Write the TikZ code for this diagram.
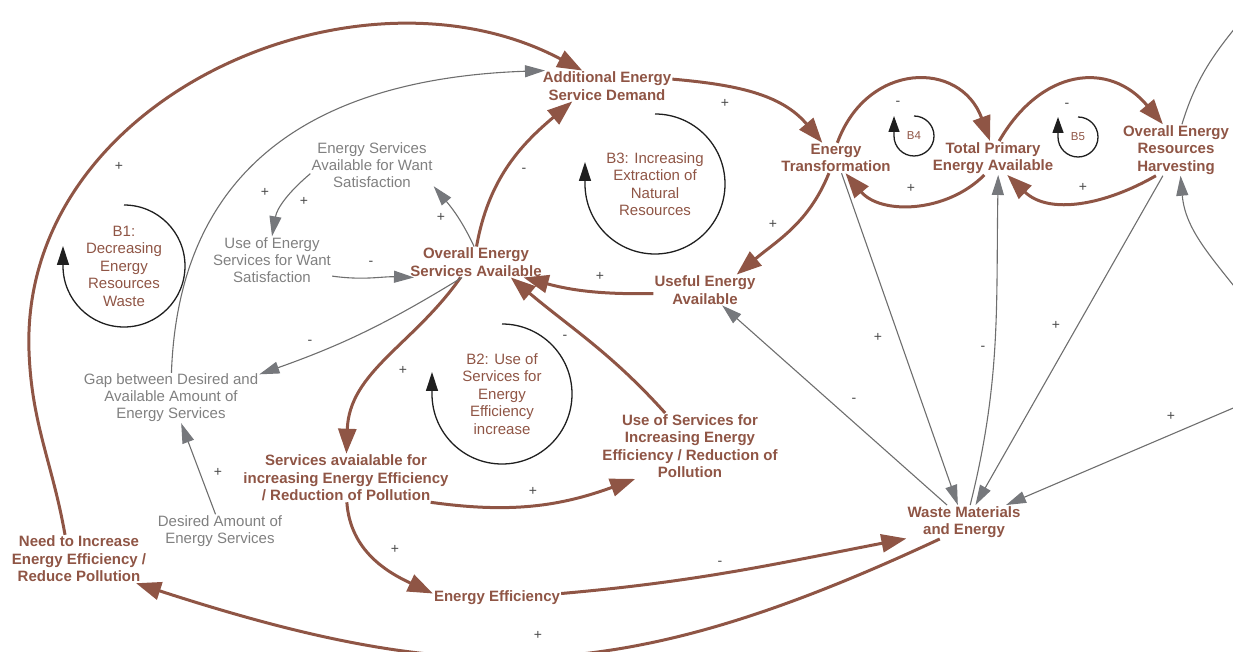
\documentclass[tikz,border=0pt]{standalone}
\usepackage{fontspec}
\setmainfont{Liberation Sans}
\usepackage{xcolor}
\usetikzlibrary{arrows.meta}

\definecolor{varbrown}{HTML}{8F5545}
\definecolor{auxgray}{HTML}{808080}
\definecolor{linkgray}{HTML}{6E6E6E}
\definecolor{headgray}{HTML}{76787C}
\definecolor{polgray}{HTML}{4A4A4A}

\tikzset{
  var/.style={font=\fontsize{15}{17.5}\selectfont\bfseries, text=varbrown, align=center, inner sep=1pt},
  aux/.style={font=\fontsize{15}{17}\selectfont, text=auxgray, align=center, inner sep=1pt},
  looplabel/.style={font=\fontsize{15}{17.5}\selectfont, text=varbrown, align=center, inner sep=0pt},
  pol/.style={font=\fontsize{14}{14}\selectfont, text=polgray, inner sep=0pt},
  link/.style={draw=varbrown, line width=3pt, -{Triangle[length=25pt,width=18pt]}},
  glink/.style={draw=linkgray, line width=1.1pt, -{Triangle[length=20pt,width=12pt,color=headgray]}},
  loopc/.style={draw=black!88, line width=1.3pt, -{Triangle[length=19pt,width=12pt]}}
}

\begin{document}
\begin{tikzpicture}[x=1pt,y=1pt]
	\useasboundingbox (0,0) rectangle (1233,651);

	% main variables
	\node[var] (add) at (607,565) {Additional Energy\\Service Demand};
	\node[var] (et) at (836,493) {Energy\\Transformation};
	\node[var] (tpe) at (993,493) {Total Primary\\Energy Available};
	\node[var] (oerh) at (1176,501) {Overall Energy\\Resources\\Harvesting};
	\node[var] (oesa) at (476,389) {Overall Energy\\Services Available};
	\node[var] (uea) at (705,361) {Useful Energy\\Available};
	\node[var] (saie) at (346,173) {Services avaialable for\\increasing Energy Efficiency\\/ Reduction of Pollution};
	\node[var] (usie) at (690,205) {Use of Services for\\Increasing Energy\\Efficiency / Reduction of\\Pollution};
	\node[var] (ee) at (497,53) {Energy Efficiency};
	\node[var] (wme) at (964,129) {Waste Materials\\and Energy};
	\node[var] (niee) at (79,92) {Need to Increase\\Energy Efficiency /\\Reduce Pollution};

	% grey auxiliaries
	\node[aux] (esaw) at (372,486) {Energy Services\\Available for Want\\Satisfaction};
	\node[aux] (uesw) at (272,391) {Use of Energy\\Services for Want\\Satisfaction};
	\node[aux] (gap) at (171,253) {Gap between Desired and\\Available Amount of\\Energy Services};
	\node[aux] (daes) at (220,120) {Desired Amount of\\Energy Services};

	% loop names
	\node[looplabel] (b1) at (124,385) {B1:\\Decreasing\\Energy\\Resources\\Waste};
	\node[looplabel] (b2) at (502,257) {B2: Use of\\Services for\\Energy\\Efficiency\\increase};
	\node[looplabel] (b3) at (655,467) {B3: Increasing\\Extraction of\\Natural\\Resources};
	\node[looplabel, font=\fontsize{11.5}{12}\selectfont] (b4) at (914,515) {B4};
	\node[looplabel, font=\fontsize{11.5}{12}\selectfont] (b5) at (1078,514) {B5};

	% loop circles
	\draw[loopc] ([yshift=61pt]b1.center) arc[start angle=90, end angle=-180, radius=61pt] -- ++(0,20);
	\draw[loopc] ([yshift=70pt]b2.center) arc[start angle=90, end angle=-180, radius=70pt] -- ++(0,22);
	\draw[loopc] ([yshift=70pt]b3.center) arc[start angle=90, end angle=-180, radius=70pt] -- ++(0,22);
	\draw[loopc, -{Triangle[length=16pt,width=11pt]}] ([yshift=20pt]b4.center) arc[start angle=90, end angle=-180, radius=20pt] -- ++(0,20);
	\draw[loopc, -{Triangle[length=16pt,width=11pt]}] ([yshift=20pt]b5.center) arc[start angle=90, end angle=-180, radius=20pt] -- ++(0,20);

	% free ends beyond the frame
	\coordinate (bend1) at (29,300);
	\coordinate (northout) at (1250,641);
	\coordinate (eastbend) at (1245,351);
	\coordinate (eastin) at (1245,248);

	% brown links
	\draw[link] (niee.120) to[out=100,in=-88] (bend1) to[out=92,in=152,looseness=1.05] (add.148);
	\draw[link] (add.6) to[out=-5,in=130] (et.132);
	\draw[link] (et.245) to[out=-112,in=40] (uea.26);
	\draw[link] (uea.184) to[bend left=8] (oesa.342);
	\draw[link] (oesa.88) to[out=80,in=-140] (add.204);
	\draw[link] (oesa.225) to[out=-125,in=88] (saie.89);
	\draw[link] (saie.344) to[out=-8,in=200] (usie.211);
	\draw[link] (usie.127) to[out=132,in=-40] (oesa.336);
	\draw[link] (saie.272) to[out=-86,in=155] (ee.176);
	\draw[link] (ee.4) to[out=5,in=191] (wme.196);
	\draw[link] (wme.215) to[out=205,in=-18,looseness=1.1] (niee.337);
	\draw[link] (et.85) to[out=70,in=110,looseness=1.45] (tpe.100);
	\draw[link] (tpe.243) to[out=-135,in=-50] (et.302);
	\draw[link] (tpe.70) to[out=60,in=130,looseness=1.3] (oerh.117);
	\draw[link] (oerh.232) to[out=-150,in=-44] (tpe.310);

	% grey links
	\draw[glink] (gap.89) to[out=88,in=182,looseness=1.15] (add.166);
	\draw[glink] (esaw.188) to[out=220,in=80] (uesw.90);
	\draw[glink] (oesa.97) to[out=115,in=-50] (esaw.341);
	\draw[glink] (uesw.345) to[out=-8,in=178] (oesa.194);
	\draw[glink] (oesa.228) to[bend left=6] (gap.15);
	\draw[glink] (daes.105) -- (gap.292);
	\draw[glink] (et.290) -- (wme.110);
	\draw[glink] (wme.70) to[out=76,in=-91] (tpe.287);
	\draw[glink] (oerh.243) -- (wme.56);
	\draw[glink] (eastin) -- (wme.22);
	\draw[glink] (wme.135) -- (uea.318);
	\draw[glink, -] (oerh.77) to[out=73,in=230] (northout);
	\draw[glink] (eastbend) to[out=128,in=-85] (oerh.280);

	% polarities
	\foreach \px/\py/\s [count=\i] in {119/485/+, 725/548/+, 773/427/+, 600/375/+, 524/481/-,
		403/281/+, 533/160/+, 565/314/-, 395/102/+, 720/88/-, 538/16/+, 898/548/-, 911/463/+,
		1067/546/-, 1083/464/+, 265/459/+, 304/450/+, 441/434/+, 371/388/-, 310/309/-,
		218/179/+, 878/314/+, 983/303/-, 1056/326/+, 1171/235/+, 854/251/-}
		\node[pol] (pol\i) at (\px,\py) {\s};
\end{tikzpicture}
\end{document}
